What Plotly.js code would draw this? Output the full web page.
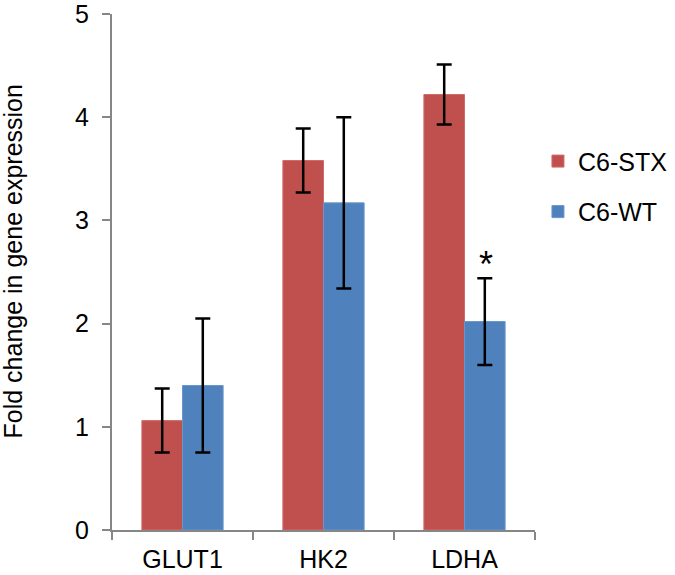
<!DOCTYPE html>
<html>
<head>
<meta charset="utf-8">
<script src="https://cdn.plot.ly/plotly-3.0.1.min.js"></script>
<style>body{margin:0;padding:0;background:#fff}#chart{width:675px;height:575px}</style>
</head>
<body>
<div id="chart"></div>
<script>
var categories = ["GLUT1", "HK2", "LDHA"];
var seriesNames = ["C6-STX", "C6-WT"];
var stxValues = [1.06, 3.58, 4.22];
var stxErrors = [0.31, 0.31, 0.29];
var wtValues = [1.40, 3.17, 2.02];
var wtErrors = [0.65, 0.83, 0.42];
var yTicks = [0, 1, 2, 3, 4, 5];
var yTitle = "Fold change in gene expression";
var sigIndex = 2; // LDHA C6-WT marked with *

var font = "Liberation Sans, Arial, sans-serif";
var fs = 25;
var errStyle = {type: "data", visible: true, color: "#000000", thickness: 2.5, width: 7.5};

var traces = [
  {type: "bar", name: seriesNames[0], x: categories, y: stxValues,
   error_y: Object.assign({array: stxErrors}, errStyle),
   marker: {color: "#C0504D", line: {color: "#D06A67", width: 1}}, legendgroup: "a"},
  {type: "bar", name: seriesNames[1], x: categories, y: wtValues,
   error_y: Object.assign({array: wtErrors}, errStyle),
   marker: {color: "#4F81BD", line: {color: "#6A96CC", width: 1}}, legendgroup: "b"}
];

var layout = {
  width: 675, height: 575,
  margin: {l: 112, r: 140, t: 14, b: 45, autoexpand: false},
  paper_bgcolor: "#ffffff", plot_bgcolor: "#ffffff",
  font: {family: font, size: fs, color: "#000000"},
  barmode: "group", bargap: 0.424, bargroupgap: 0,
  showlegend: true,
  legend: {x: 1.007, xanchor: "left", y: 0.759, yanchor: "top", traceorder: "grouped",
           tracegroupgap: 15, font: {family: font, size: fs, color: "#000"}, bgcolor: "rgba(0,0,0,0)"},
  xaxis: {type: "category", showline: true, linecolor: "#868686", linewidth: 2,
          ticks: "outside", tickson: "boundaries", ticklen: 8, tickwidth: 2, tickcolor: "#868686",
          ticklabelstandoff: 6, automargin: false,
          showgrid: false, zeroline: false, tickfont: {family: font, size: fs, color: "#000"}},
  yaxis: {range: [0, 5], tickvals: yTicks, showline: true, linecolor: "#868686", linewidth: 2,
          ticks: "outside", ticklen: 8, tickwidth: 2, tickcolor: "#868686",
          ticklabelstandoff: 8, ticklabeloverflow: "allow", automargin: false,
          showgrid: false, zeroline: false, tickfont: {family: font, size: fs, color: "#000"}},
  annotations: [
    {x: 12.5, y: 262, xref: "paper", yref: "paper", text: yTitle, showarrow: false,
     textangle: -90, xanchor: "center", yanchor: "middle", font: {family: font, size: fs, color: "#000"}},
    {x: categories[sigIndex], y: wtValues[sigIndex] + wtErrors[sigIndex], xref: "x", yref: "y",
     text: "*", showarrow: false, xshift: 21, yanchor: "bottom", yshift: -9,
     font: {family: font, size: 36, color: "#000"}}
  ]
};
// position y title in pixel terms (paper coords computed from margins)
var pw = 675 - layout.margin.l - layout.margin.r, ph = 575 - layout.margin.t - layout.margin.b;
layout.annotations[0].x = (12.5 - layout.margin.l) / pw;
layout.annotations[0].y = (575 - layout.margin.b - 262) / ph;

Plotly.newPlot("chart", traces, layout, {displayModeBar: false, staticPlot: true});
</script>
</body>
</html>
